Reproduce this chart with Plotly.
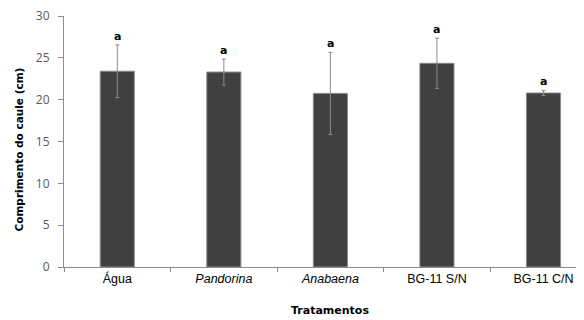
import plotly.graph_objects as go

categories = ["Água", "<i>Pandorina</i>", "<i>Anabaena</i>", "BG-11 S/N", "BG-11 C/N"]
means = [23.4, 23.3, 20.75, 24.35, 20.8]
errors = [3.15, 1.55, 4.9, 3.0, 0.3]
letters = ["a", "a", "a", "a", "a"]
y_ticks = [0, 5, 10, 15, 20, 25, 30]

fig = go.Figure()
fig.add_trace(go.Bar(
    x=categories, y=means, width=0.32,
    marker=dict(color="#404040", line=dict(color="#8a8a8a", width=1)),
    error_y=dict(type="data", array=errors, visible=True, color="#8c8c8c", thickness=1, width=2),
))

for c, m, e, l in zip(categories, means, errors, letters):
    fig.add_annotation(x=c, y=m + e, text="<b>" + l + "</b>", showarrow=False,
                       yanchor="bottom", yshift=0,
                       font=dict(family="DejaVu Sans", size=11, color="#000000"))

# axis titles as paper annotations
fig.add_annotation(xref="paper", yref="paper", x=0.5, y=0, xanchor="center", yanchor="middle",
                   yshift=-43, xshift=6, text="<b>Tratamentos</b>", showarrow=False,
                   font=dict(family="DejaVu Sans", size=11, color="#000000"))
fig.add_annotation(xref="paper", yref="paper", x=0, y=0.5, xanchor="center", yanchor="middle",
                   xshift=-46, yshift=-8, textangle=-90, text="<b>Comprimento do caule (cm)</b>", showarrow=False,
                   font=dict(family="DejaVu Sans", size=10.5, color="#000000"))

# page body has an 8px default margin, so the figure is sized/offset to compensate
fig.update_layout(
    width=576, height=312,
    margin=dict(l=56, r=0, t=8, b=53, autoexpand=False),
    plot_bgcolor="white", paper_bgcolor="white",
    showlegend=False,
)
fig.update_xaxes(
    range=[-0.5, 4.38], showline=True, linecolor="#8c8c8c", linewidth=1,
    ticks="outside", tickson="boundaries", ticklen=4, tickcolor="#8c8c8c",
    tickfont=dict(family="Liberation Sans", size=12.5, color="#000000"),
    showgrid=False, automargin=False,
)
fig.update_yaxes(
    range=[0, 30], tickvals=y_ticks, showline=True, linecolor="#8c8c8c", linewidth=1,
    ticks="outside", ticklen=5, tickcolor="#8c8c8c",
    tickfont=dict(family="Open Sans", size=12, color="#595959"),
    ticklabelstandoff=6, ticklabeloverflow="allow",
    showgrid=False, zeroline=False, automargin=False,
)

fig.write_html("out.html")
